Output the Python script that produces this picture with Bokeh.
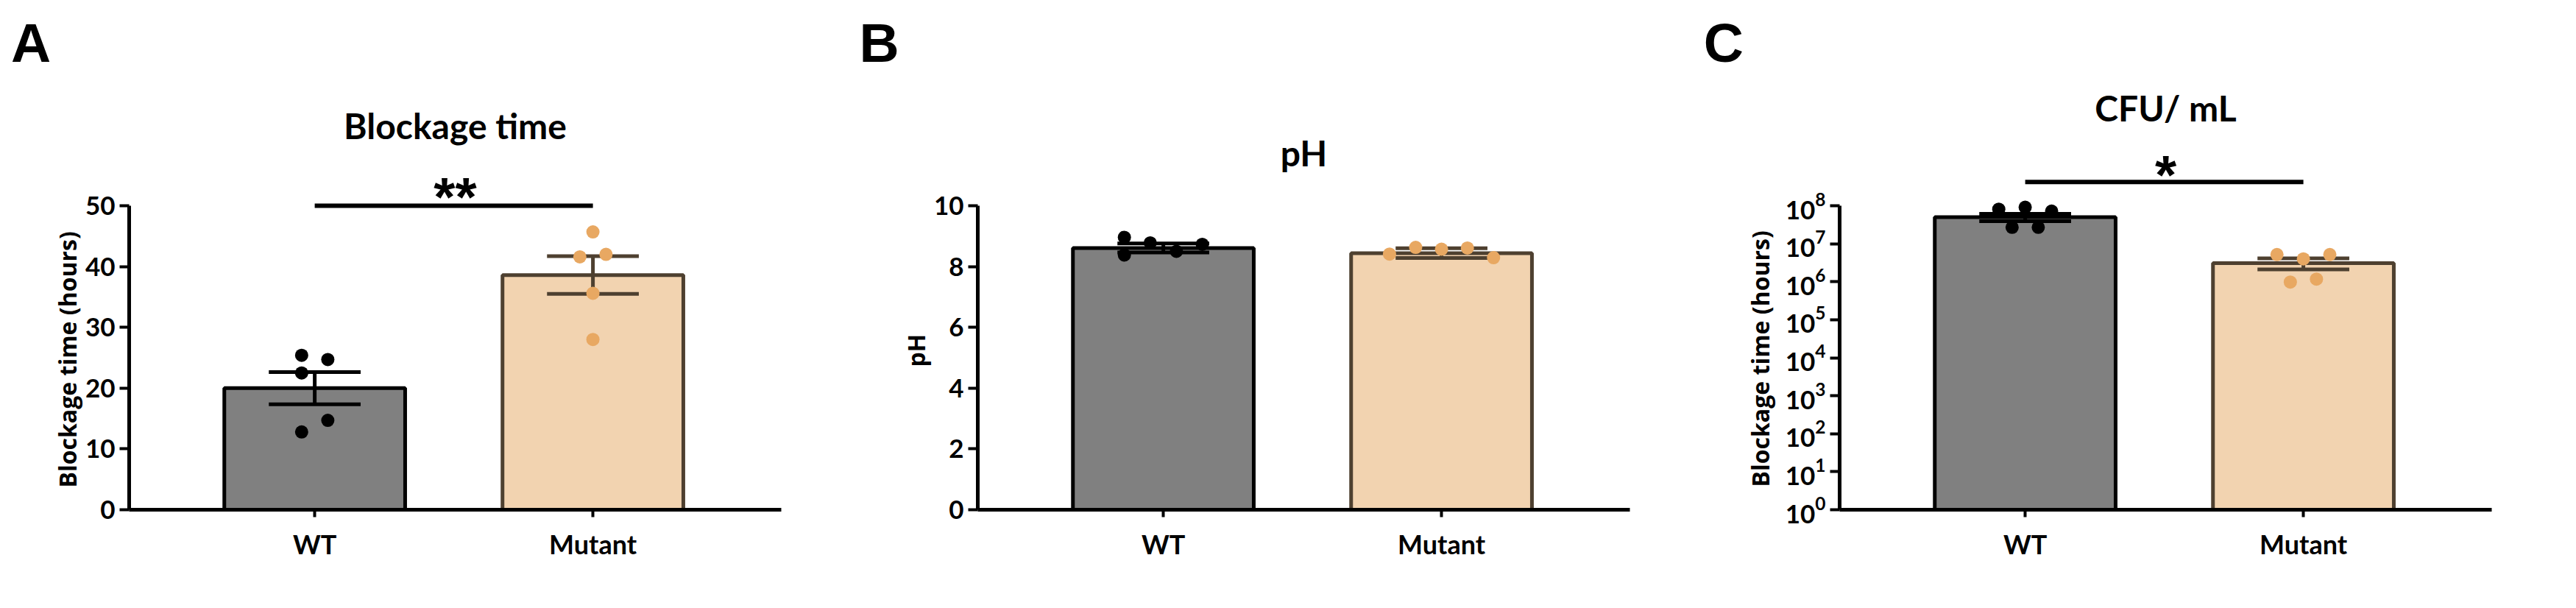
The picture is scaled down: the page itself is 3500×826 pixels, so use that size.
from bokeh.plotting import figure
from bokeh.models import (Range1d, FixedTicker, Label, Arrow, LogTickFormatter,
                          ColumnDataSource, Title, Div)
from bokeh.layouts import row, column
from bokeh.embed import file_html
from bokeh.resources import INLINE

# ---------------- data ----------------
categories = ["WT", "Mutant"]
panel_letters = ["A", "B", "C"]

# Panel A : Blockage time (hours)
a_wt_points = [25.4, 24.7, 22.5, 14.7, 12.8]
a_wt_jitter = [-0.047, 0.047, -0.047, 0.047, -0.047]
a_mut_points = [45.7, 41.6, 42.0, 35.6, 28.0]
a_mut_jitter = [0.0, -0.047, 0.047, 0.0, 0.0]
a_means = [20.0, 38.6]
a_sems = [2.65, 3.1]
a_yticks = [0, 10, 20, 30, 40, 50]
a_sig_level = 50
a_sig_text = "**"

# Panel B : pH
b_wt_points = [8.96, 8.78, 8.73, 8.50, 8.38]
b_wt_jitter = [-0.14, -0.047, 0.14, 0.047, -0.14]
b_mut_points = [8.41, 8.63, 8.57, 8.61, 8.29]
b_mut_jitter = [-0.187, -0.093, 0.0, 0.093, 0.187]
b_means = [8.61, 8.44]
b_sems = [0.15, 0.16]
b_yticks = [0, 2, 4, 6, 8, 10]

# Panel C : CFU/ mL (log scale)
c_wt_points = [8.1e7, 9.1e7, 7.2e7, 2.7e7, 2.7e7]
c_wt_jitter = [-0.095, 0.0, 0.095, -0.047, 0.047]
c_mut_points = [5.2e6, 4.0e6, 5.2e6, 9.8e5, 1.17e6]
c_mut_jitter = [-0.095, 0.0, 0.095, -0.047, 0.047]
c_means = [5.0e7, 3.1e6]
c_sems = [1.1e7, 1.0e6]
c_yticks = [1e0, 1e1, 1e2, 1e3, 1e4, 1e5, 1e6, 1e7, 1e8]
c_sig_level = 4.2e8
c_sig_text = "*"

# ---------------- style ----------------
bar_fill = ["#808080", "#F2D3B0"]
bar_line = ["#000000", "#4E4030"]
dot_color = ["#000000", "#E8A862"]
err_color = ["#000000", "#4E4030"]
LABEL_FONT = "Lato"
YLAB_FONT = "Open Sans"
FRAME_W = 886
TOP_H = 90
FIG_H = 720
BORDER_BOTTOM = 118
FRAME_H = FIG_H - BORDER_BOTTOM      # frame reaches the top of the figure
AXIS_H = 413                         # pixel height of the drawn y axis
scale = FRAME_H / AXIS_H


def make_panel(width, bl, br, y_range, y_type, yticks, means, sems,
               wt_pts, wt_jit, mut_pts, mut_jit, title, title_y, ylabel,
               ylab_offset, ylab_standoff, sig=None, log=False, bottom=0):
    p = figure(width=width, height=FIG_H, x_range=Range1d(-0.667, 1.677),
               y_range=y_range, y_axis_type=y_type, output_backend="svg",
               toolbar_location=None, title=None, min_border_left=bl, min_border_right=br,
               min_border_top=0, min_border_bottom=BORDER_BOTTOM)
    p.outline_line_color = None
    p.xgrid.visible = False
    p.ygrid.visible = False

    xs = list(range(len(categories)))
    src = ColumnDataSource(dict(x=xs, top=means, fill=bar_fill, line=bar_line))
    p.vbar(x="x", top="top", bottom=bottom, width=0.65, fill_color="fill",
           line_color="line", line_width=5, source=src)

    lo = [m - s for m, s in zip(means, sems)]
    hi = [m + s for m, s in zip(means, sems)]
    esrc = ColumnDataSource(dict(x=xs, lo=lo, hi=hi, c=err_color,
                                 xl=[x - 0.165 for x in xs], xr=[x + 0.165 for x in xs]))
    p.segment(x0="x", y0="lo", x1="x", y1="hi", line_color="c", line_width=5, source=esrc)
    p.segment(x0="xl", y0="hi", x1="xr", y1="hi", line_color="c", line_width=5, source=esrc)
    p.segment(x0="xl", y0="lo", x1="xr", y1="lo", line_color="c", line_width=5, source=esrc)

    p.scatter(x=[0 + j for j in wt_jit], y=wt_pts, size=18, fill_color=dot_color[0], line_color=None)
    p.scatter(x=[1 + j for j in mut_jit], y=mut_pts, size=18, fill_color=dot_color[1], line_color=None)

    # axes
    xa = p.xaxis[0]
    xa.ticker = FixedTicker(ticks=xs, minor_ticks=[])
    xa.major_label_overrides = {i: c for i, c in enumerate(categories)}
    xa.axis_line_width = 5
    xa.axis_line_color = "black"
    xa.major_tick_line_width = 4
    xa.major_tick_out = 10
    xa.major_tick_in = 0
    xa.minor_tick_out = 0
    xa.minor_tick_in = 0
    xa.major_label_text_font = LABEL_FONT
    xa.major_label_text_font_style = "bold"
    xa.major_label_text_font_size = "36px"
    xa.major_label_text_color = "black"
    xa.major_label_standoff = 14

    ya = p.yaxis[0]
    ya.ticker = FixedTicker(ticks=yticks, minor_ticks=[])
    ya.bounds = (yticks[0], yticks[-1])
    if log:
        ya.formatter = LogTickFormatter()
    ya.axis_line_width = 5
    ya.axis_line_color = "black"
    ya.major_tick_line_width = 4
    ya.major_tick_out = 13
    ya.major_tick_in = 0
    ya.minor_tick_out = 0
    ya.minor_tick_in = 0
    ya.major_label_text_font = LABEL_FONT
    ya.major_label_text_font_style = "bold"
    ya.major_label_text_font_size = "35px"
    ya.major_label_text_color = "black"
    ya.major_label_standoff = 6

    # y axis title, measured from the bottom of the axis
    p.add_layout(Title(text=ylabel, align="left", offset=ylab_offset,
                       standoff=ylab_standoff, vertical_align="bottom",
                       text_font=YLAB_FONT, text_font_style="bold",
                       text_font_size="32px", text_color="black"), "left")

    p.add_layout(Label(x=FRAME_W / 2, y=title_y, x_units="screen", y_units="screen",
                       text=title, text_align="center", text_baseline="alphabetic",
                       text_font=LABEL_FONT, text_font_style="bold",
                       text_font_size="48px", text_color="black"))
    if sig is not None:
        level, text, star_y = sig
        p.add_layout(Arrow(x_start=0, y_start=level, x_end=1, y_end=level,
                           start=None, end=None, line_width=6, line_color="black"))
        p.add_layout(Label(x=FRAME_W / 2, y=star_y, x_units="screen", y_units="screen",
                           text=text, text_align="center", text_baseline="alphabetic",
                           text_font="Liberation Sans", text_font_style="bold",
                           text_font_size="75px", text_color="black"))
    return p


pa = make_panel(1150, 175, 89, Range1d(0, a_yticks[-1] * scale), "linear", a_yticks,
                a_means, a_sems, a_wt_points, a_wt_jitter, a_mut_points, a_mut_jitter,
                "Blockage time", 522, "Blockage time (hours)", 30, 0,
                sig=(a_sig_level, a_sig_text, 426))
pb = make_panel(1140, 178, 76, Range1d(0, b_yticks[-1] * scale), "linear", b_yticks,
                b_means, b_sems, b_wt_points, b_wt_jitter, b_mut_points, b_mut_jitter,
                "pH", 485, "pH", 194, 0)
pc = make_panel(1194, 209, 99, Range1d(1, 10 ** (8 * scale)), "log", c_yticks,
                c_means, c_sems, c_wt_points, c_wt_jitter, c_mut_points, c_mut_jitter,
                "CFU/ mL", 546, "Blockage time (hours)", 31, 20,
                sig=(c_sig_level, c_sig_text, 456), log=True, bottom=1)

# panel letters (page x of each letter's origin)
letter_left = [15, 1167.5, 2314.7]
spans = "".join(
    f'<span style="position:absolute;left:{x}px;top:20.5px;">{t}</span>'
    for t, x in zip(panel_letters, letter_left))
letters = Div(text=spans, width=3484, height=TOP_H, margin=(0, 0, 0, 0),
              styles={"font-family": "Liberation Sans",
                      "font-weight": "bold", "font-size": "75px",
                      "line-height": "75px", "color": "black"})

layout = column(letters, row(pa, pb, pc))
open("out.html", "w").write(file_html(layout, INLINE))
